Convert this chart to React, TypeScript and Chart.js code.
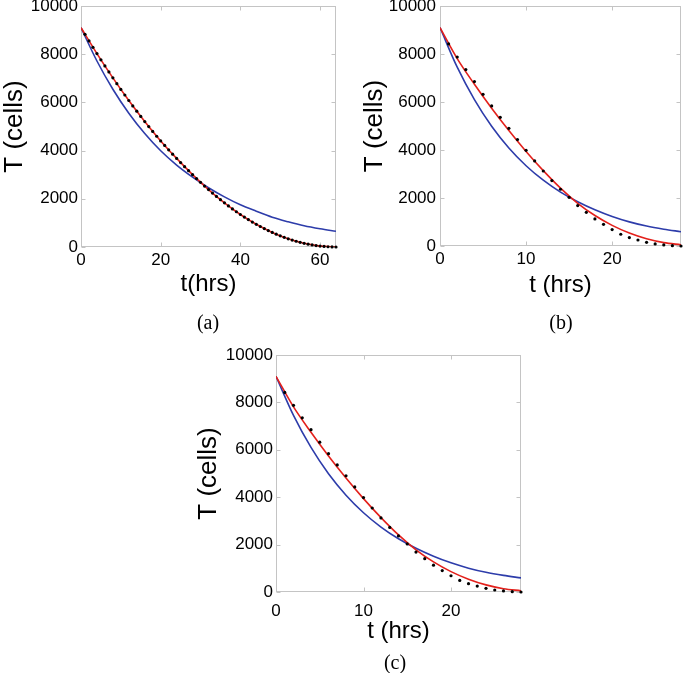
import React, { useEffect, useRef } from "react";
import { Chart, registerables } from "chart.js";
Chart.register(...registerables);

// ---------- DATA ----------
// Panel (a): 0..64 hrs
const aDotHours = [1,2,3,4,5,6,7,8,9,10,11,12,13,14,15,16,17,18,19,20,21,22,23,24,25,26,27,28,29,30,31,32,33,34,35,36,37,38,39,40,41,42,43,44,45,46,47,48,49,50,51,52,53,54,55,56,57,58,59,60,61,62,63,64];
const aDotCells = [
  8825, 8554, 8287, 8025, 7767, 7513, 7263, 7018, 6777, 6540,
  6307, 6078, 5854, 5634, 5418, 5206, 4998, 4795, 4596, 4400,
  4213, 4031, 3852, 3676, 3503, 3333, 3166, 3002, 2841, 2683,
  2530, 2382, 2238, 2098, 1962, 1831, 1704, 1581, 1463, 1349,
  1240, 1136, 1036, 941, 850, 764, 682, 605, 532, 464,
  400, 341, 287, 238, 193, 152, 117, 86, 60, 38,
  22, 10, 2, 0,
];
const aCurveHours = [0, 4, 8, 12, 16, 20, 24, 28, 32, 36, 40, 44, 48, 52, 56, 60, 64];
const aRedCells = [9100, 8025, 7018, 6078, 5206, 4400, 3676, 3002, 2382, 1831, 1349, 941, 605, 341, 152, 38, 0];
const aBlueCells = [9100, 7718, 6545, 5550, 4707, 3992, 3400, 2900, 2460, 2080, 1751, 1485, 1235, 1045, 880, 755, 651];
const aXTicks = [0, 20, 40, 60];

// Panels (b) and (c): 0..28 hrs
const bDotHours = [1,2,3,4,5,6,7,8,9,10,11,12,13,14,15,16,17,18,19,20,21,22,23,24,25,26,27,28];
const bDotCells = [
  8420, 7875, 7350, 6850, 6320, 5835, 5360, 4905, 4435, 3985,
  3545, 3125, 2725, 2365, 2030, 1685, 1405, 1130, 905, 685,
  490, 350, 250, 155, 85, 45, 15, 0,
];
const bCurveHours = [0, 2, 4, 6, 8, 10, 12, 14, 16, 18, 20, 22, 24, 26, 28];
const bRedCells = [9100, 7810, 6740, 5740, 4810, 3940, 3140, 2410, 1780, 1270, 860, 540, 300, 140, 50];
const bBlueCells = [9100, 7450, 6100, 4990, 4085, 3345, 2740, 2245, 1845, 1510, 1230, 1005, 830, 700, 595];
const bXTicks = [0, 10, 20];

const yTicks = [0, 2000, 4000, 6000, 8000, 10000];
const yTitle = "T (cells)";

// ---------- STYLE ----------
const SANS = "'Liberation Sans', Arial, Helvetica, sans-serif";
const SERIF = "'Liberation Serif', 'Times New Roman', serif";
const BLUE = "#2d3caa";
const RED = "#e3201b";
const BOX = "#c4c4c4";

const boxPlugin = {
  id: "matlabBox",
  beforeDatasetsDraw(chart: any) {
    const { ctx, chartArea: a, scales } = chart;
    const xs = scales.x, ys = scales.y;
    const L = Math.round(a.left) + 0.5, R = Math.round(a.right) - 0.5;
    const T = Math.round(a.top) + 0.5, B = Math.round(a.bottom) - 0.5;
    ctx.save();
    ctx.strokeStyle = BOX;
    ctx.lineWidth = 1;
    ctx.strokeRect(L, T, R - L, B - T);
    const len = 4;
    ctx.beginPath();
    xs.ticks.forEach((t: any) => {
      const px = Math.round(xs.getPixelForValue(t.value)) + 0.5;
      ctx.moveTo(px, B); ctx.lineTo(px, B - len);
      ctx.moveTo(px, T); ctx.lineTo(px, T + len);
    });
    ys.ticks.forEach((t: any) => {
      const py = Math.round(ys.getPixelForValue(t.value)) + 0.5;
      ctx.moveTo(L, py); ctx.lineTo(L + len, py);
      ctx.moveTo(R, py); ctx.lineTo(R - len, py);
    });
    ctx.stroke();
    ctx.restore();
  },
};

type PanelProps = {
  left: number; top: number; width: number; height: number;
  area: { left: number; top: number; right: number; bottom: number };
  dotHours: number[]; dotCells: number[];
  curveHours: number[]; redCells: number[]; blueCells: number[];
  xMax: number; xTicks: number[]; xTitle: string;
  yTitlePad: number; xTitlePad: number; xTickPad: number; yTickPad: number;
};

function Panel(p: PanelProps) {
  const ref = useRef<HTMLCanvasElement>(null);
  useEffect(() => {
    if (!ref.current) return;
    const pts = (xs: number[], ys: number[]) => xs.map((x, i) => ({ x, y: ys[i] }));
    const setTicks = (vals: number[]) => (s: any) => {
      s.ticks = vals.map((v) => ({ value: v }));
    };
    const chart = new Chart(ref.current, {
      type: "scatter",
      data: {
        datasets: [
          {
            data: pts(p.dotHours, p.dotCells),
            pointRadius: 1.6,
            pointBackgroundColor: "#000",
            pointBorderWidth: 0,
            showLine: false,
            clip: false,
          } as any,
          {
            data: pts(p.curveHours, p.redCells),
            showLine: true,
            borderColor: RED,
            borderWidth: 1.6,
            pointRadius: 0,
            cubicInterpolationMode: "monotone",
          },
          {
            data: pts(p.curveHours, p.blueCells),
            showLine: true,
            borderColor: BLUE,
            borderWidth: 1.6,
            pointRadius: 0,
            cubicInterpolationMode: "monotone",
          },
        ],
      },
      options: {
        animation: false,
        responsive: false,
        maintainAspectRatio: false,
        events: [],
        layout: {
          padding: {
            left: 0,
            top: p.area.top,
            right: p.width - p.area.right,
            bottom: 0,
          },
        },
        plugins: { legend: { display: false }, tooltip: { enabled: false } },
        scales: {
          x: {
            type: "linear",
            min: 0,
            max: p.xMax,
            grid: { display: false, drawTicks: false },
            border: { display: false },
            afterBuildTicks: setTicks(p.xTicks),
            ticks: {
              autoSkip: false,
              maxRotation: 0,
              padding: p.xTickPad,
              color: "#000",
              font: { family: SANS, size: 17 },
              callback: (v: any) => String(v),
            },
            title: {
              display: true,
              text: p.xTitle,
              color: "#000",
              font: { family: SANS, size: 24 },
              padding: { top: 0, bottom: p.xTitlePad },
            },
            afterFit: (s: any) => {
              s.height = p.height - p.area.bottom;
              s.paddingLeft = 0;
              s.paddingRight = 0;
            },
          },
          y: {
            type: "linear",
            min: 0,
            max: 10000,
            grid: { display: false, drawTicks: false },
            border: { display: false },
            afterBuildTicks: setTicks(yTicks),
            ticks: {
              padding: p.yTickPad,
              color: "#000",
              font: { family: SANS, size: 17 },
              callback: (v: any) => String(v),
            },
            title: {
              display: true,
              text: yTitle,
              color: "#000",
              font: { family: SANS, size: 26 },
              padding: { top: p.yTitlePad, bottom: 0 },
            },
            afterFit: (s: any) => {
              s.width = p.area.left;
              s.paddingTop = 0;
              s.paddingBottom = 0;
            },
          },
        },
      } as any,
      plugins: [boxPlugin],
    });
    return () => chart.destroy();
  }, []);
  return (
    <canvas
      ref={ref}
      width={p.width}
      height={p.height}
      style={{ position: "absolute", left: p.left, top: p.top, width: p.width, height: p.height }}
    />
  );
}

function Caption({ text, x, y }: { text: string; x: number; y: number }) {
  return (
    <div
      style={{
        position: "absolute",
        left: x,
        top: y,
        transform: "translate(-50%, -50%)",
        fontFamily: SERIF,
        fontSize: 20,
        lineHeight: "1",
        color: "#000",
        whiteSpace: "nowrap",
      }}
    >
      {text}
    </div>
  );
}

export default function App() {
  return (
    <div style={{ position: "absolute", left: 0, top: 0, width: 685, height: 673, background: "#fff", overflow: "hidden" }}>
      <Panel
        left={0} top={0} width={345} height={300}
        area={{ left: 81, top: 6, right: 336, bottom: 247 }}
        dotHours={aDotHours} dotCells={aDotCells}
        curveHours={aCurveHours} redCells={aRedCells} blueCells={aBlueCells}
        xMax={64} xTicks={aXTicks} xTitle="t(hrs)"
        yTitlePad={-1} xTitlePad={1} xTickPad={3} yTickPad={3}
      />
      <Panel
        left={345} top={0} width={340} height={300}
        area={{ left: 95, top: 6, right: 336, bottom: 246 }}
        dotHours={bDotHours} dotCells={bDotCells}
        curveHours={bCurveHours} redCells={bRedCells} blueCells={bBlueCells}
        xMax={28} xTicks={bXTicks} xTitle="t (hrs)"
        yTitlePad={14} xTitlePad={0} xTickPad={3} yTickPad={4}
      />
      <Panel
        left={180} top={330} width={345} height={343}
        area={{ left: 96, top: 25, right: 341, bottom: 262 }}
        dotHours={bDotHours} dotCells={bDotCells}
        curveHours={bCurveHours} redCells={bRedCells} blueCells={bBlueCells}
        xMax={28} xTicks={bXTicks} xTitle="t (hrs)"
        yTitlePad={13} xTitlePad={27} xTickPad={9} yTickPad={3}
      />
      <Caption text="(a)" x={208} y={322} />
      <Caption text="(b)" x={561} y={322} />
      <Caption text="(c)" x={395} y={662} />
    </div>
  );
}
